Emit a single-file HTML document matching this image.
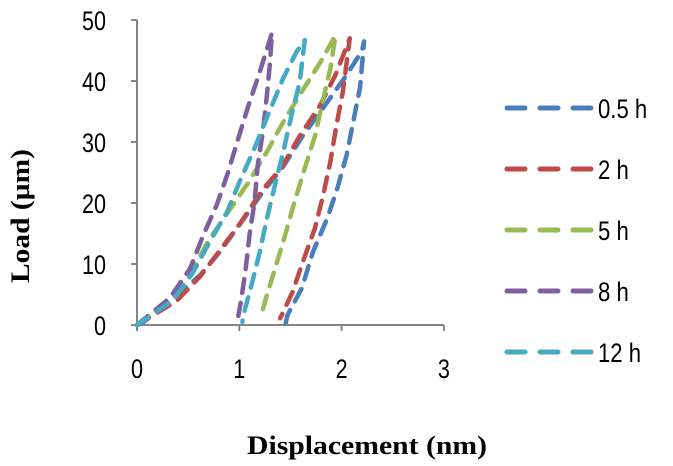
<!DOCTYPE html>
<html><head><meta charset="utf-8"><style>
body{margin:0;background:#fff;}
svg{display:block;}
text{font-family:"Liberation Sans",sans-serif;}
</style></head><body>
<svg id="chart" width="673" height="466">
<g id="axes"></g><g id="series"></g><g id="legend"></g>
<text transform="translate(29,216) rotate(-90)" text-anchor="middle" font-weight="bold" font-size="26" textLength="134" lengthAdjust="spacingAndGlyphs" style="font-family:'Liberation Serif',serif">Load (µm)</text>
<text x="367" y="454" text-anchor="middle" font-weight="bold" font-size="26" textLength="240" lengthAdjust="spacingAndGlyphs" style="font-family:'Liberation Serif',serif">Displacement (nm)</text>
</svg>
<script>
const xTicks=[0,1,2,3];
const yTicks=[0,10,20,30,40,50];
const seriesNames=["0.5 h","2 h","5 h","8 h","12 h"];
const colors=["#4a7ebb","#be4b48","#98b954","#7d60a0","#46aac5"];
const s05x=[0,0.05,0.35,0.62,0.81,1.0,1.23,1.43,1.62,1.82,2.05,2.2,2.22,2.18,2.05,1.96,1.86,1.72,1.61,1.47,1.45];
const s05y=[0,0.3,4.4,8.2,12,16.4,21.8,26,31,35.6,41,45,46.5,38.9,27.9,22.5,17.5,12,6,1.6,0];
const s2x=[0,0.39,0.62,0.8,1.01,1.22,1.42,1.59,1.79,1.94,2.08,2.01,1.95,1.89,1.82,1.74,1.62,1.52,1.40];
const s2y=[0,4,8,12,16.7,22,26,31,36,41,47,38,32.8,26.7,21.3,15.9,10.3,5.4,1.1];
const s5x=[0,0.3,0.52,0.69,0.89,1.09,1.27,1.43,1.59,1.79,1.94,1.89,1.82,1.74,1.64,1.54,1.45,1.35,1.25,1.21];
const s5y=[0,3.5,8.2,13.6,18.5,23.4,28.4,33.3,37.7,43,47.5,42,37,31,25.7,20.2,14.8,9.3,3.8,1.2];
const s8x=[0,0.32,0.52,0.65,0.78,0.89,0.99,1.09,1.2,1.32,1.30,1.27,1.23,1.18,1.15,1.10,1.06,1.01,0.99];
const s8y=[0,4.4,9.3,14.8,19.7,25,30.6,36,41.5,47.9,43,37.7,31.6,26.2,20.2,14.8,8.7,3.3,1.5];
const s12x=[0,0.35,0.55,0.71,0.88,1.0,1.15,1.28,1.43,1.56,1.64,1.59,1.51,1.43,1.35,1.27,1.2,1.12,1.04,1.03];
const s12y=[0,4,8.7,13.6,18.5,23.4,29,34.4,40.5,44.8,46.7,39.8,34.4,28.4,23,17.5,12,6.6,1.6,0.5];
const allX=[s05x,s2x,s5x,s8x,s12x], allY=[s05y,s2y,s5y,s8y,s12y];
const NS="http://www.w3.org/2000/svg";
const X=v=>137+v*102.3, Y=v=>325-v*6.1;
function mk(t,a,p){const e=document.createElementNS(NS,t);for(const k in a)e.setAttribute(k,a[k]);p.appendChild(e);return e;}
const ax=document.getElementById('axes');
let l=mk('line',{x1:137,y1:20,x2:137,y2:325,stroke:'#868686','stroke-width':2},ax);


l=mk('line',{x1:137,y1:325,x2:X(3),y2:325,stroke:'#868686','stroke-width':2},ax);


yTicks.forEach(v=>{
 mk('line',{x1:131,y1:Y(v),x2:137,y2:Y(v),stroke:'#868686','stroke-width':2},ax);
 const t=mk('text',{x:0,y:0,'text-anchor':'end','font-size':27,transform:`translate(106,${Y(v)+10}) scale(0.8,1)`},ax);t.textContent=v;
 
 
});
xTicks.forEach(v=>{
 mk('line',{x1:X(v),y1:325,x2:X(v),y2:331,stroke:'#868686','stroke-width':2},ax);
 const t=mk('text',{x:0,y:0,'text-anchor':'middle','font-size':27,transform:`translate(${X(v)},378) scale(0.8,1)`},ax);t.textContent=v;
 
 
});
const sg=document.getElementById('series');
allX.forEach((xs,i)=>{
 const pts=xs.map((x,j)=>X(x).toFixed(1)+','+Y(allY[i][j]).toFixed(1)).join(' ');
 const p=mk('polyline',{points:pts,fill:'none',stroke:colors[i],'stroke-width':4.5,'stroke-dasharray':'14 10','stroke-linecap':'round','stroke-linejoin':'round'},sg);
 
 
});
const lg=document.getElementById('legend');
seriesNames.forEach((n,i)=>{
 const y=108+i*61;
 const g=mk('g',{},lg);
 
 
 mk('line',{x1:507,y1:y,x2:591,y2:y,stroke:colors[i],'stroke-width':5,'stroke-dasharray':'18 15','stroke-linecap':'round'},g);
 const t=mk('text',{x:0,y:0,'font-size':27,transform:`translate(598,${y+10}) scale(0.82,1)`},g);t.textContent=n;
});
</script>
</body></html>
